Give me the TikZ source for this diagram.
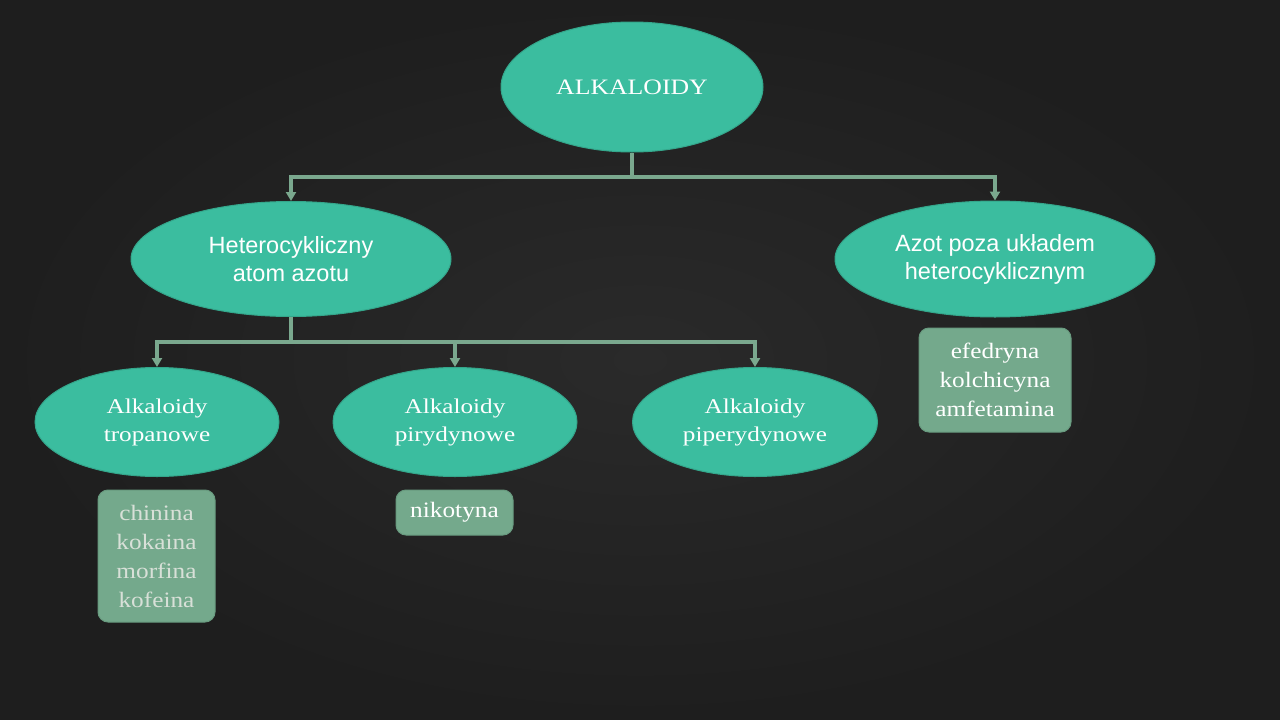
\documentclass[tikz,border=0pt]{standalone}
\usepackage{fontspec}
\setmainfont{Liberation Serif}
\newfontfamily\arialf{Liberation Sans}
\usetikzlibrary{shapes.geometric,arrows.meta}
\definecolor{bgin}{HTML}{2A2A2A}
\definecolor{bgout}{HTML}{1E1E1E}
\definecolor{teal1}{HTML}{3BBD9F}
\definecolor{teal2}{HTML}{34A68B}
\definecolor{connc}{HTML}{7AA88E}
\definecolor{boxf}{HTML}{74A98C}
\definecolor{boxd}{HTML}{689A7F}
\definecolor{greytxt}{HTML}{D8E0D8}
\tikzset{
  ell/.style={ellipse, fill=teal1, draw=teal2, line width=1pt, inner sep=0pt, text=white, align=center},
  conn/.style={draw=connc, line width=3.2pt},
  arr/.style={conn, -{Triangle[width=10pt,length=9pt]}},
  gbox/.style={rectangle, rounded corners=10pt, fill=boxf, draw=boxd, line width=1pt, inner sep=0pt, align=center},
  serifbig/.style={font=\fontsize{22}{29}\selectfont\addfontfeatures{FakeStretch=1.15}},
  serifmid/.style={font=\fontsize{21}{28}\selectfont\addfontfeatures{FakeStretch=1.2}},
  sansmid/.style={font=\arialf\fontsize{23.5}{28}\selectfont},
}
\begin{document}
\begin{tikzpicture}[x=1pt,y=-1pt]
\shade[inner color=bgin, outer color=bgout] (0,0) rectangle (1280,720);
\useasboundingbox (0,0) rectangle (1280,720);

\node[ell, minimum width=262pt, minimum height=130pt, font=\fontsize{22}{27}\selectfont\addfontfeatures{FakeStretch=1.17}] (alk) at (632,87) {ALKALOIDY};
\node[ell, minimum width=320pt, minimum height=115pt, sansmid] (het) at (291,259) {Heterocykliczny\\atom azotu};
\node[ell, minimum width=320pt, minimum height=116pt, sansmid] (azot) at (995,259) {Azot poza układem\\heterocyklicznym};

\node[ell, minimum width=244pt, minimum height=109pt, serifmid] (trop) at (157,422) {Alkaloidy\\tropanowe};
\node[ell, minimum width=244pt, minimum height=109pt, serifmid] (piryd) at (455,422) {Alkaloidy\\pirydynowe};
\node[ell, minimum width=245pt, minimum height=109pt, serifmid] (piper) at (755,422) {Alkaloidy\\piperydynowe};

\node[gbox, minimum width=117pt, minimum height=132pt, text=greytxt, serifbig] (chin) at (156.5,556) {chinina\\kokaina\\morfina\\kofeina};
\node[gbox, minimum width=117pt, minimum height=45pt, text=white, serifbig] (nik) at (454.5,512.5) {nikotyna};
\node[gbox, minimum width=152pt, minimum height=104pt, text=white, serifbig] (efe) at (995,380) {efedryna\\kolchicyna\\amfetamina};

\coordinate (j1) at (632,177);
\coordinate (j2) at (291,342);
\draw[conn] (alk.south) -- (j1);
\draw[arr] (j1) -| (het.north);
\draw[arr] (j1) -| (azot.north);
\draw[conn] (het.south) -- (j2);
\draw[arr] (j2) -| (trop.north);
\draw[arr] (j2) -| (piryd.north);
\draw[arr] (j2) -| (piper.north);
\end{tikzpicture}
\end{document}
